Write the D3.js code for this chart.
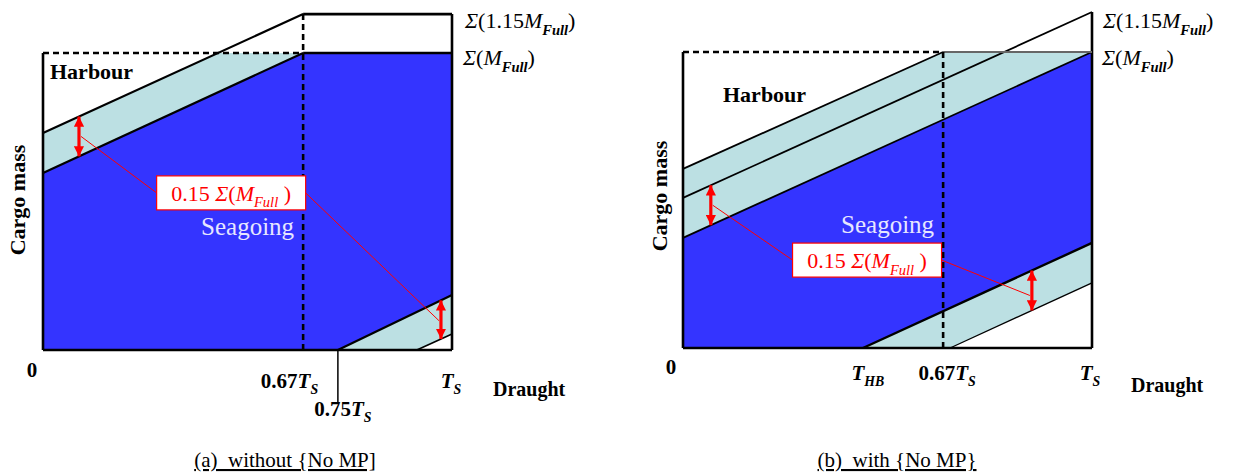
<!DOCTYPE html>
<html><head><meta charset="utf-8">
<script src="https://cdn.jsdelivr.net/npm/d3@7"></script>
<style>
html,body{margin:0;padding:0;background:#fff;}
svg text{font-family:"Liberation Serif","Times New Roman",serif;}
</style></head>
<body>
<svg id="chart" width="1233" height="473" font-family="Liberation Serif, Times New Roman, serif"></svg>
<script>
// ---------- DATA (draught as fraction of T_S, cargo mass as fraction of Σ(M_Full)) ----------
// Panel (a): without {No MP}
const aDashX = 0.636;            // 0.67 T_S line
const aTopLevel = 1.131;         // Σ(1.15 M_Full) level
const aHarbourLine = [[0, 0.731], [0.636, 1.131]];
const aSeaUpper    = [[0, 0.596], [0.636, 1.0]];
const aSeaLower    = [[0.721, 0], [1, 0.185]];
const aLowLimit    = [[0.914, 0], [1, 0.054]];
const aArrowX      = [0.088, 0.973];
const aCallout     = [0.46, 0.529];
const aTickValues  = [0, 0.636, 0.721, 1];
const aTickLabels  = ["0", "0.67T_S", "0.75T_S", "T_S"];

// Panel (b): with {No MP}
const bDashX = 0.636;
const bTopLevel = 1.135;
const bHarbourLine = [[0, 0.605], [0.636, 1.0]];
const bMidLine     = [[0, 0.507], [1, 1.135]];
const bSeaUpper    = [[0, 0.372], [1, 1.0]];
const bSeaLower    = [[0.44, 0], [1, 0.355]];
const bLowLimit    = [[0.653, 0], [1, 0.22]];
const bArrowX      = [0.068, 0.853];
const bCallout     = [0.45, 0.297];
const bTickValues  = [0, 0.44, 0.636, 1];
const bTickLabels  = ["0", "T_HB", "0.67T_S", "T_S"];

const levelLabels  = ["Σ(1.15M_Full)", "Σ(M_Full)"];
const calloutText  = "0.15 Σ(M_Full )";
const regionLabels = ["Harbour", "Seagoing"];
const axisLabels   = ["Cargo mass", "Draught"];
const captions     = ["(a)  without {No MP]", "(b)  with {No MP}"];

// ---------- STYLE ----------
const FONT = "'Liberation Serif', 'Times New Roman', serif";
const BLUE = "#3434FF", LIGHT = "#BCE0E3", RED = "#FF0000", SEA_TXT = "#E6E6FF";

const svg = d3.select("#chart");
svg.append("rect").attr("width", 1233).attr("height", 473).attr("fill", "#fff");
const defs = svg.append("defs");
defs.append("marker").attr("id", "ah").attr("viewBox", "0 0 10 10")
  .attr("refX", 10).attr("refY", 5).attr("markerWidth", 3.2).attr("markerHeight", 3.2)
  .attr("markerUnits", "strokeWidth").attr("orient", "auto-start-reverse")
  .append("path").attr("d", "M0,0 L10,5 L0,10 Z").attr("fill", RED);

function lineAt(l, x) {
  const [[x0, y0], [x1, y1]] = l;
  return y0 + (y1 - y0) * (x - x0) / (x1 - x0);
}
function xAtY(l, y) {
  const [[x0, y0], [x1, y1]] = l;
  return x0 + (x1 - x0) * (y - y0) / (y1 - y0);
}
function txt(g) { return g.append("text").attr("font-family", FONT); }

// rich text: Σ, T, M italic; "_xxx" subscript (italic)
function rich(sel, str, fs, bold, subBold) {
  const re = /(_[A-Za-z]+)|([ΣTM])|([^_ΣTM]+)/g;
  let m, shifted = false;
  const sub = fs * 0.3;
  while ((m = re.exec(str))) {
    if (m[1]) {
      sel.append("tspan").text(m[1].slice(1))
        .attr("font-style", "italic")
        .attr("font-weight", (bold || subBold) ? "bold" : "normal")
        .attr("font-size", (fs * 0.66) + "px")
        .attr("dy", sub);
      shifted = true;
    } else {
      const t = sel.append("tspan").text(m[2] || m[3])
        .attr("font-style", m[2] ? "italic" : "normal")
        .attr("font-weight", bold ? "bold" : "normal")
        .attr("font-size", fs + "px");
      if (shifted) { t.attr("dy", -sub); shifted = false; }
    }
  }
  return sel;
}

function panel(cfg) {
  const x = d3.scaleLinear().domain([0, 1]).range(cfg.xr);
  const y = d3.scaleLinear().domain([0, 1]).range(cfg.yr);
  const g = svg.append("g");
  const pts = p => p.map(d => [x(d[0]), y(d[1])].join(",")).join(" ");
  const seg = (p, w, col, dash) => g.append("line")
    .attr("x1", x(p[0][0])).attr("y1", y(p[0][1]))
    .attr("x2", x(p[1][0])).attr("y2", y(p[1][1]))
    .attr("stroke", col || "#000").attr("stroke-width", w)
    .attr("stroke-dasharray", dash || null);

  // fills
  cfg.lightPolys.forEach(p => g.append("polygon").attr("points", pts(p)).attr("fill", LIGHT));
  g.append("polygon").attr("points", pts(cfg.bluePoly)).attr("fill", BLUE);

  // boundary lines
  cfg.lines.forEach(l => seg(l.p, l.w));

  // frame
  cfg.frame.forEach(f => seg(f.p, f.w, f.c));
  cfg.dashed.forEach(p => seg(p, 2.6, "#000", "6,4"));

  // arrows
  cfg.arrows.forEach(a => {
    g.append("line").attr("x1", x(a.x)).attr("x2", x(a.x))
      .attr("y1", y(a.top)).attr("y2", y(a.bot))
      .attr("stroke", RED).attr("stroke-width", 3.2)
      .attr("marker-start", "url(#ah)").attr("marker-end", "url(#ah)");
  });

  // callout
  const cx = x(cfg.callout[0]), cy = y(cfg.callout[1]);
  const bw = 149, bh = 34;
  const a0 = cfg.arrows[0], a1 = cfg.arrows[1];
  g.append("line").attr("x1", x(a0.x) + 2).attr("y1", (y(a0.top) + y(a0.bot)) / 2)
    .attr("x2", cx - bw / 2).attr("y2", cy).attr("stroke", RED).attr("stroke-width", 1);
  g.append("line").attr("x1", cx + bw / 2).attr("y1", cy)
    .attr("x2", x(a1.x) - 2).attr("y2", (y(a1.top) + y(a1.bot)) / 2 + cfg.leadDy)
    .attr("stroke", RED).attr("stroke-width", 1);
  g.append("rect").attr("x", cx - bw / 2).attr("y", cy - bh / 2).attr("width", bw).attr("height", bh)
    .attr("fill", "#fff").attr("stroke", RED).attr("stroke-width", 1.2);
  rich(txt(g).attr("x", cx).attr("y", cy + 8).attr("text-anchor", "middle").attr("fill", RED),
       calloutText, 22, false, false);

  // region labels
  txt(g).attr("x", cfg.harbour[0]).attr("y", cfg.harbour[1])
    .attr("font-weight", "bold").attr("font-size", "22px").text(regionLabels[0]);
  txt(g).attr("x", x(cfg.dashX) - 9).attr("y", cfg.seaY).attr("text-anchor", "end")
    .attr("fill", SEA_TXT).attr("font-size", "25px").text(regionLabels[1]);

  // level labels
  levelLabels.forEach((t, i) => {
    rich(txt(g).attr("x", cfg.levelX[i]).attr("y", [28, 65][i]), t, 22, false, true);
  });

  // tick labels
  cfg.tickValues.forEach((v, i) => {
    const o = cfg.tickLayout[i];
    rich(txt(g).attr("x", x(v) + o[0]).attr("y", o[1]).attr("text-anchor", o[2]),
         cfg.tickLabels[i], 21, true, true);
  });

  // axis labels
  txt(g).attr("transform", `translate(${cfg.yLab[0]},${cfg.yLab[1]}) rotate(-90)`)
    .attr("text-anchor", "middle").attr("font-weight", "bold").attr("font-size", "22px").text(axisLabels[0]);
  txt(g).attr("x", cfg.xLab[0]).attr("y", cfg.xLab[1])
    .attr("font-weight", "bold").attr("font-size", "20px").text(axisLabels[1]);

  // caption
  txt(g).attr("x", cfg.cap[0]).attr("y", cfg.cap[1]).attr("text-anchor", "middle")
    .attr("font-size", "21px").style("white-space", "pre").style("text-decoration", "underline")
    .text(cfg.caption);

  return { x, y, g, seg };
}

// ---------- Panel (a) ----------
{
  const xc = xAtY(aHarbourLine, 1);
  const P = panel({
    xr: [43, 452], yr: [350, 53], dashX: aDashX,
    lightPolys: [
      [[0, aSeaUpper[0][1]], [0, aHarbourLine[0][1]], [xc, 1], [aDashX, 1]],
      [aSeaLower[0], aSeaLower[1], aLowLimit[1], aLowLimit[0]]
    ],
    bluePoly: [[0, 0], aSeaUpper[0], aSeaUpper[1], [1, 1], aSeaLower[1], aSeaLower[0]],
    lines: [{ p: aHarbourLine, w: 2.2 }, { p: aSeaUpper, w: 2.2 }, { p: aSeaLower, w: 2.2 }, { p: aLowLimit, w: 1.6 }],
    frame: [
      { p: [[0, 0], [0, 1]], w: 2.6 }, { p: [[0, 0], [1, 0]], w: 2.6 },
      { p: [[1, 0], [1, aTopLevel]], w: 2.6 }, { p: [[aDashX, aTopLevel], [1, aTopLevel]], w: 2.6 },
      { p: [[aDashX, 1], [1, 1]], w: 2.4 }
    ],
    dashed: [[[0, 1], [aDashX, 1]], [[aDashX, 0], [aDashX, aTopLevel]]],
    arrows: [
      { x: aArrowX[0], top: lineAt(aHarbourLine, aArrowX[0]), bot: lineAt(aSeaUpper, aArrowX[0]) },
      { x: aArrowX[1], top: lineAt(aSeaLower, aArrowX[1]), bot: lineAt(aLowLimit, aArrowX[1]) }
    ],
    leadDy: 1,
    callout: aCallout,
    harbour: [50, 79], seaY: 235,
    levelX: [465, 463],
    tickValues: aTickValues, tickLabels: aTickLabels,
    tickLayout: [[-11, 377, "middle"], [15, 388, "end"], [5, 416, "middle"], [-1, 388, "middle"]],
    yLab: [25, 200], xLab: [493, 396],
    cap: [285, 467], caption: captions[0]
  });
  // 0.75 T_S tick mark
  P.g.append("line").attr("x1", P.x(aTickValues[2])).attr("x2", P.x(aTickValues[2]))
    .attr("y1", P.y(0)).attr("y2", P.y(0) + 52).attr("stroke", "#000").attr("stroke-width", 1.5);
}

// ---------- Panel (b) ----------
{
  panel({
    xr: [683, 1092], yr: [348, 52], dashX: bDashX,
    lightPolys: [
      [bSeaUpper[0], bHarbourLine[0], bHarbourLine[1], [1, 1]],
      [bSeaLower[0], bSeaLower[1], bLowLimit[1], bLowLimit[0]]
    ],
    bluePoly: [[0, 0], bSeaUpper[0], bSeaUpper[1], bSeaLower[1], bSeaLower[0]],
    lines: [{ p: bHarbourLine, w: 1.8 }, { p: bMidLine, w: 1.8 }, { p: bSeaUpper, w: 1.8 },
            { p: bSeaLower, w: 2.4 }, { p: bLowLimit, w: 1.3 }],
    frame: [
      { p: [[0, 0], [0, 1]], w: 2.6 }, { p: [[0, 0], [1, 0]], w: 2.6 },
      { p: [[1, 0], [1, bTopLevel]], w: 2.6 },
      { p: [[bDashX, 1], [1, 1]], w: 2, c: "#666" }
    ],
    dashed: [[[0, 1], [bDashX, 1]], [[bDashX, 0], [bDashX, 1]]],
    arrows: [
      { x: bArrowX[0], top: lineAt(bMidLine, bArrowX[0]), bot: lineAt(bSeaUpper, bArrowX[0]) },
      { x: bArrowX[1], top: lineAt(bSeaLower, bArrowX[1]), bot: lineAt(bLowLimit, bArrowX[1]) }
    ],
    leadDy: 5,
    callout: bCallout,
    harbour: [723, 102], seaY: 233,
    levelX: [1103, 1102],
    tickValues: bTickValues, tickLabels: bTickLabels,
    tickLayout: [[-12, 374, "middle"], [5, 380, "middle"], [4, 380, "middle"], [-2, 380, "middle"]],
    yLab: [667, 196], xLab: [1131, 392],
    cap: [897, 467], caption: captions[1]
  });
}
</script>
</body></html>
